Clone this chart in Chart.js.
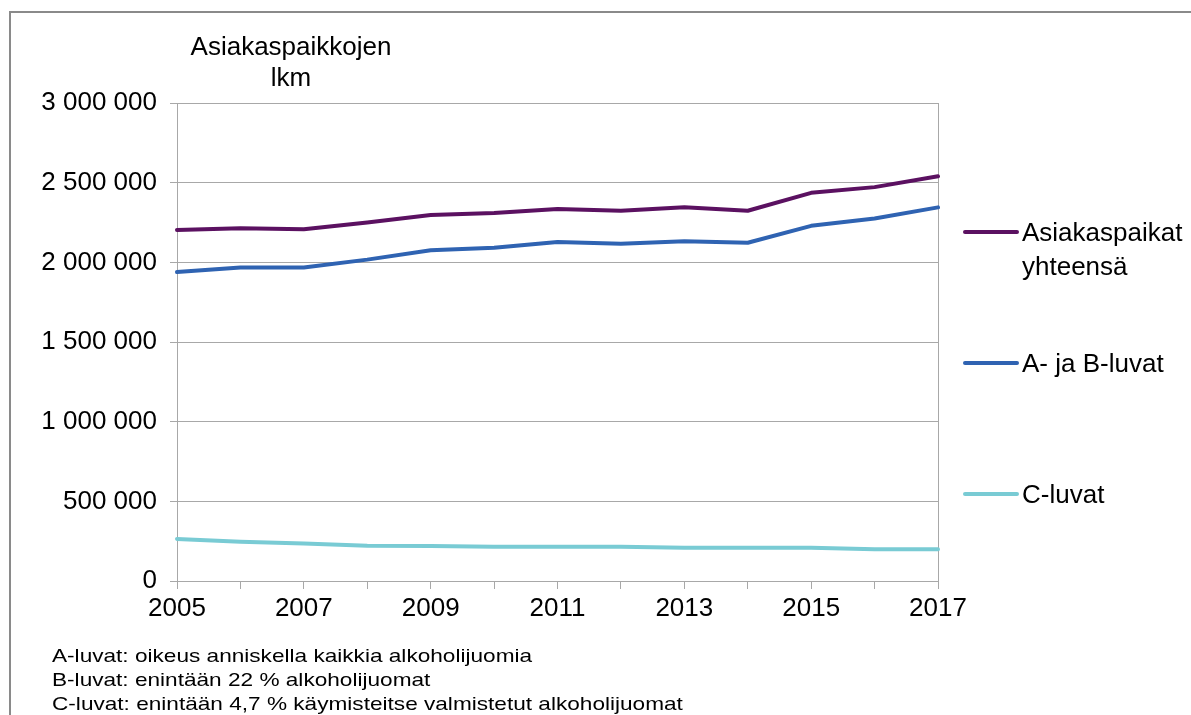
<!DOCTYPE html>
<html>
<head>
<meta charset="utf-8">
<script src="https://cdn.jsdelivr.net/npm/chart.js@4.4.1/dist/chart.umd.min.js"></script>
<style>
  html, body { margin: 0; padding: 0; background: #fff; overflow: hidden; }
  body { width: 1191px; height: 715px; position: relative; font-family: "Liberation Sans", Arial, sans-serif; color: #000; }
  #frame { position: absolute; left: 9px; top: 11px; width: 1300px; height: 800px; border-left: 2px solid #8a8a8a; border-top: 2px solid #8a8a8a; }
  canvas { position: absolute; left: 0; top: 0; }
  #ytitle { position: absolute; left: 141px; width: 300px; top: 31px; text-align: center; font-size: 26px; line-height: 31px; }
  .leg { position: absolute; left: 963px; }
  .leg .ln { position: absolute; left: 0; width: 56px; height: 4px; border-radius: 2px; }
  .leg .tx { position: absolute; left: 59px; width: 220px; font-size: 26px; line-height: 34px; white-space: nowrap; }
  #note { position: absolute; left: 52px; top: 644px; font-size: 19px; line-height: 24px; white-space: nowrap; transform: scaleX(1.19); transform-origin: 0 0; }
</style>
</head>
<body>
<div id="frame"></div>
<canvas id="c" width="1191" height="715"></canvas>
<div id="ytitle">Asiakaspaikkojen<br>lkm</div>
<div id="legend"></div>
<div id="note"></div>
<script>
const years = ['2005','2006','2007','2008','2009','2010','2011','2012','2013','2014','2015','2016','2017'];
const seriesNames = ['Asiakaspaikat yhteensä', 'A- ja B-luvat', 'C-luvat'];
const legendLines = [['Asiakaspaikat', 'yhteensä'], ['A- ja B-luvat'], ['C-luvat']];
const totalValues = [2203000, 2214000, 2208000, 2250000, 2297000, 2309000, 2335000, 2324000, 2345000, 2324000, 2436000, 2472000, 2540000];
const abValues = [1939000, 1968000, 1968000, 2017000, 2076000, 2091000, 2127000, 2117000, 2133000, 2123000, 2229000, 2275000, 2345000];
const cValues = [264000, 247000, 236000, 222000, 220000, 215000, 215000, 215000, 209000, 209000, 209000, 199000, 199000];
const yTickValues = [0, 500000, 1000000, 1500000, 2000000, 2500000, 3000000];
const notes = [
  'A-luvat: oikeus anniskella kaikkia alkoholijuomia',
  'B-luvat: enintään 22 % alkoholijuomat',
  'C-luvat: enintään 4,7 % käymisteitse valmistetut alkoholijuomat'
];

const colors = ['#5b1161', '#2f63b2', '#79cbd4'];
const gridColor = '#a8a8a8';
const FONT = '"Liberation Sans", Arial, sans-serif';

function fmt(n) { return String(n).replace(/\B(?=(\d{3})+(?!\d))/g, ' '); }

const chart = new Chart(document.getElementById('c'), {
  type: 'line',
  data: {
    labels: years,
    datasets: [
      { label: seriesNames[0], data: totalValues, borderColor: colors[0] },
      { label: seriesNames[1], data: abValues, borderColor: colors[1] },
      { label: seriesNames[2], data: cValues, borderColor: colors[2] }
    ].map(d => Object.assign(d, { borderWidth: 4, pointRadius: 0, pointHoverRadius: 0, tension: 0, fill: false, borderCapStyle: 'round', borderJoinStyle: 'round' }))
  },
  options: {
    responsive: false,
    animation: false,
    events: [],
    layout: { padding: { left: 0, right: 253, top: 103, bottom: 94 } },
    plugins: { legend: { display: false }, tooltip: { enabled: false }, title: { display: false } },
    scales: {
      x: {
        type: 'category',
        offset: false,
        grid: { display: true, drawOnChartArea: false, drawTicks: true, tickLength: 8, color: gridColor, lineWidth: 1 },
        border: { display: true, color: gridColor, width: 1 },
        ticks: {
          autoSkip: false, maxRotation: 0, minRotation: 0, padding: 4,
          color: '#000', font: { family: FONT, size: 26 },
          callback: function(v, i) { return i % 2 === 0 ? years[i] : ''; }
        },
        afterFit: s => { s.height = 40; }
      },
      y: {
        min: 0, max: 3000000,
        afterBuildTicks: s => { s.ticks = yTickValues.map(v => ({ value: v })); },
        grid: { display: true, drawTicks: true, tickLength: 7, color: gridColor, lineWidth: 1 },
        border: { display: true, color: gridColor, width: 1 },
        ticks: { padding: 13, color: '#000', font: { family: FONT, size: 26 }, callback: v => fmt(v) },
        afterFit: s => { s.width = 177; }
      },
      yR: {
        position: 'right', min: 0, max: 3000000,
        grid: { display: false, drawTicks: false },
        border: { display: true, color: gridColor, width: 1 },
        ticks: { display: false },
        afterFit: s => { s.width = 0; }
      }
    }
  }
});

// HTML legend built from series
const legendTops = [232, 363, 494];
const legendEl = document.getElementById('legend');
seriesNames.forEach((name, i) => {
  const d = document.createElement('div');
  d.className = 'leg';
  d.style.top = legendTops[i] + 'px';
  d.title = name;
  const ln = document.createElement('div');
  ln.className = 'ln';
  ln.style.background = colors[i];
  ln.style.top = '-2px';
  const tx = document.createElement('div');
  tx.className = 'tx';
  tx.style.top = '-17px';
  tx.innerHTML = legendLines[i].join('<br>');
  d.appendChild(ln); d.appendChild(tx);
  legendEl.appendChild(d);
});

document.getElementById('note').innerHTML = notes.join('<br>');
</script>
</body>
</html>
